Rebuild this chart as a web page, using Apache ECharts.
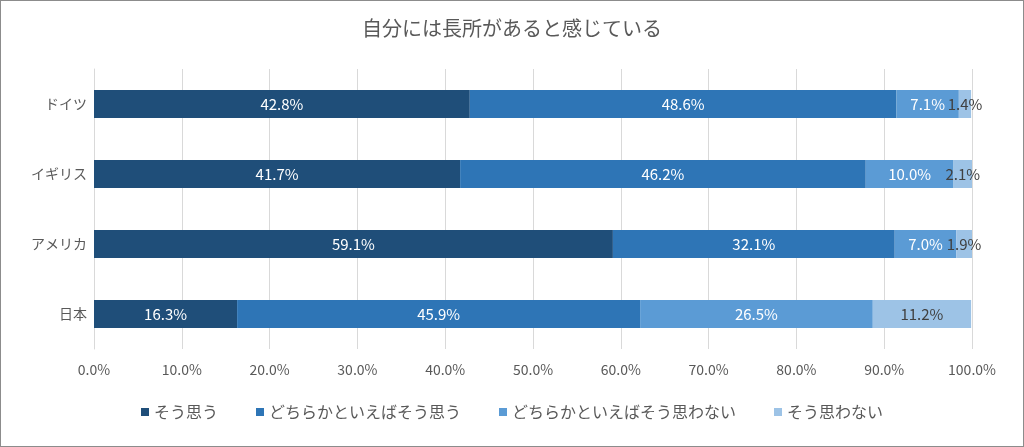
<!DOCTYPE html>
<html><head><meta charset="utf-8">
<script src="https://cdn.jsdelivr.net/npm/echarts@6/dist/echarts.min.js"></script>
<style>html,body{margin:0;padding:0;background:#fff}#c{width:1024px;height:447px;box-sizing:border-box;border:1px solid #8c8c8c}</style>
</head><body><div id="c"></div>
<script>
const categories = ['ドイツ','イギリス','アメリカ','日本'];
const seriesNames = ['そう思う','どちらかといえばそう思う','どちらかといえばそう思わない','そう思わない'];
const s1 = [42.8, 41.7, 59.1, 16.3];
const s2 = [48.6, 46.2, 32.1, 45.9];
const s3 = [7.1, 10.0, 7.0, 26.5];
const s4 = [1.4, 2.1, 1.9, 11.2];
const colors = ['#1F4E79','#2E75B6','#5B9BD5','#9DC3E6'];
const labelColors = ['#fff','#fff','#fff','#404040'];
const FONT = '"Noto Sans CJK JP", "Noto Sans", sans-serif';
const chart = echarts.init(document.getElementById('c'));
const data = [s1,s2,s3,s4];
chart.setOption({
  animation:false,
  textStyle:{fontFamily:FONT},
  title:{text:'自分には長所があると感じている',left:'center',top:12,textStyle:{fontFamily:FONT,fontSize:20,fontWeight:'normal',color:'#595959'}},
  legend:{bottom:21,left:'center',itemWidth:8,itemHeight:8,itemGap:38,icon:'rect',textStyle:{fontFamily:FONT,fontSize:16,color:'#595959'},data:seriesNames},
  grid:{left:93,right:51,top:68,bottom:97},
  xAxis:{type:'value',min:0,max:100,interval:10,
    axisLabel:{formatter:v=>v.toFixed(1)+'%',color:'#595959',fontSize:14,fontFamily:FONT,margin:14},
    splitLine:{lineStyle:{color:'#d9d9d9',width:1}},axisLine:{show:false},axisTick:{show:false}},
  yAxis:{type:'category',data:categories,inverse:true,
    axisLabel:{color:'#595959',fontSize:14,fontFamily:FONT,margin:7},
    axisLine:{lineStyle:{color:'#d9d9d9'}},axisTick:{show:false}},
  series:data.map((d,i)=>({name:seriesNames[i],type:'bar',stack:'a',barWidth:28,data:d,
    itemStyle:{color:colors[i]},
    label:{show:true,position:'inside',formatter:p=>p.value.toFixed(1)+'%',color:labelColors[i],fontSize:15,fontFamily:FONT}}))
});
</script></body></html>
